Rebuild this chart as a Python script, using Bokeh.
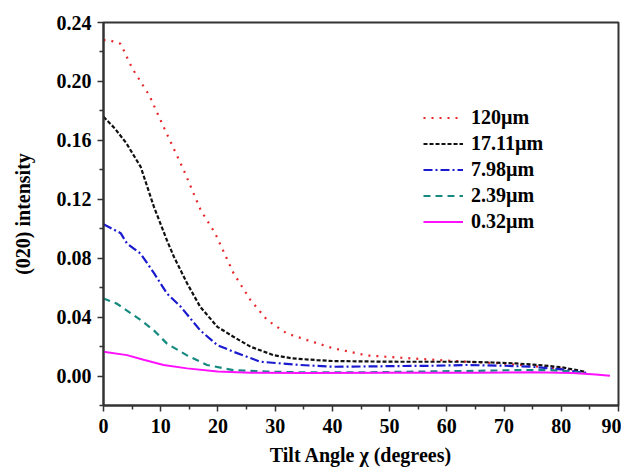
from bokeh.plotting import figure
from bokeh.models import Range1d, FixedTicker, PrintfTickFormatter, Legend, LegendItem
from bokeh.embed import file_html
from bokeh.resources import INLINE

# Data
x_120 = [0, 1, 3, 5, 8, 11, 14, 17, 19.5, 22.7, 25.7, 28.6, 32, 35.6, 40, 46, 52, 58, 63.5, 69.4, 75, 81, 84]
y_120 = [0.228, 0.228, 0.2255, 0.209, 0.1905, 0.165, 0.14, 0.1125, 0.097, 0.07, 0.0515, 0.038, 0.029, 0.0244,
         0.019, 0.014, 0.0124, 0.011, 0.0097, 0.0086, 0.0068, 0.0045, 0.003]

x_1711 = [0, 2, 4, 6.5, 8.8, 11.1, 12.3, 14.6, 16.9, 19.9, 22.7, 25.7, 29.7, 33, 37.3, 40, 46, 52, 58, 63.5,
          68, 72, 76, 80, 84]
y_1711 = [0.176, 0.168, 0.158, 0.142, 0.115, 0.092, 0.081, 0.063, 0.047, 0.0334, 0.0267, 0.0199, 0.0142, 0.012,
          0.0108, 0.0102, 0.0099, 0.0097, 0.0097, 0.0097, 0.0092, 0.0086, 0.0075, 0.006, 0.003]

x_798 = [0, 1, 3, 4.1, 6.5, 8.8, 11.1, 13.5, 16.9, 19.9, 22.7, 27.4, 34.4, 40, 46, 52, 58, 63.5, 70, 75, 80, 84.5]
y_798 = [0.103, 0.101, 0.097, 0.09, 0.083, 0.07, 0.056, 0.047, 0.031, 0.021, 0.0165, 0.0097, 0.0075, 0.0063,
         0.0065, 0.0068, 0.007, 0.0075, 0.007, 0.0063, 0.0045, 0.002]

x_239 = [0, 2.4, 6.5, 8.8, 11.1, 14.6, 18.1, 22.7, 28.6, 35, 45, 55, 65, 72, 78, 82, 84]
y_239 = [0.0527, 0.049, 0.038, 0.031, 0.022, 0.014, 0.0075, 0.004, 0.003, 0.0025, 0.0025, 0.003, 0.0035, 0.004,
         0.004, 0.003, 0.002]

x_032 = [0, 4.1, 7, 10.5, 14.6, 19.9, 25.7, 35, 50, 65, 75, 82, 86, 88.5]
y_032 = [0.0165, 0.0142, 0.011, 0.0075, 0.0052, 0.003, 0.0023, 0.002, 0.0022, 0.0023, 0.0025, 0.002, 0.001, 0.0002]

labels = ["120\u00b5m", "17.11\u00b5m", "7.98\u00b5m", "2.39\u00b5m", "0.32\u00b5m"]
x_ticks = [0, 10, 20, 30, 40, 50, 60, 70, 80, 90]
y_ticks = [0.00, 0.04, 0.08, 0.12, 0.16, 0.20, 0.24]

FONT = "Liberation Serif"

p = figure(width=621, height=472, output_backend="svg", toolbar_location=None,
           x_range=Range1d(0, 90), y_range=Range1d(-0.02, 0.24),
           min_border_left=103, min_border_right=3, min_border_top=22, min_border_bottom=67)
p.grid.visible = False
p.outline_line_color = "#333333"
p.outline_line_width = 2
p.background_fill_color = "white"
p.border_fill_color = "white"

series = [
    (x_120, y_120, "#e8262a", "2 6", 2.2),
    (x_1711, y_1711, "#111111", "4 2", 2.2),
    (x_798, y_798, "#1a1ad0", "9 3 2 3", 2.2),
    (x_239, y_239, "#178a80", "7 5", 2.2),
    (x_032, y_032, "#ff10ff", "solid", 2.0),
]
items = []
for (xs, ys, c, dash, w), lab in zip(series, labels):
    r = p.line(xs, ys, line_color=c, line_dash=dash, line_width=w)
    items.append(LegendItem(label=lab, renderers=[r]))

legend = Legend(items=items, location=(320, 172), border_line_color=None, background_fill_alpha=0,
                label_text_font=FONT, label_text_font_style="bold", label_text_font_size="20px",
                label_text_color="black",
                glyph_width=40, glyph_height=21, label_height=21, label_standoff=8, spacing=3,
                padding=0, margin=0)
p.add_layout(legend, "center")

p.xaxis.ticker = FixedTicker(ticks=x_ticks, minor_ticks=[5, 15, 25, 35, 45, 55, 65, 75, 85])
p.yaxis.ticker = FixedTicker(ticks=y_ticks, minor_ticks=[-0.02, 0.02, 0.06, 0.10, 0.14, 0.18, 0.22])
p.yaxis.formatter = PrintfTickFormatter(format="%.2f")
p.xaxis.axis_label = "Tilt Angle \u03c7 (degrees)"
p.yaxis.axis_label = "(020) intensity"
for ax in (p.xaxis, p.yaxis):
    ax.axis_line_color = "#333333"
    ax.axis_line_width = 2
    ax.major_tick_line_color = "#333333"
    ax.minor_tick_line_color = "#333333"
    ax.major_tick_line_width = 1.5
    ax.minor_tick_line_width = 1.5
    ax.major_tick_out = 6
    ax.major_tick_in = 0
    ax.minor_tick_out = 4
    ax.minor_tick_in = 0
    ax.major_label_text_font = FONT
    ax.major_label_text_font_style = "bold"
    ax.major_label_text_font_size = "20px"
    ax.major_label_text_color = "black"
    ax.axis_label_text_font = FONT
    ax.axis_label_text_font_style = "bold"
    ax.axis_label_text_font_size = "20px"
    ax.axis_label_text_color = "black"
p.xaxis.major_label_standoff = 7
p.xaxis.axis_label_standoff = 8
p.yaxis.major_label_standoff = 6
p.yaxis.axis_label_standoff = 20

open("out.html", "w").write(file_html(p, INLINE))
